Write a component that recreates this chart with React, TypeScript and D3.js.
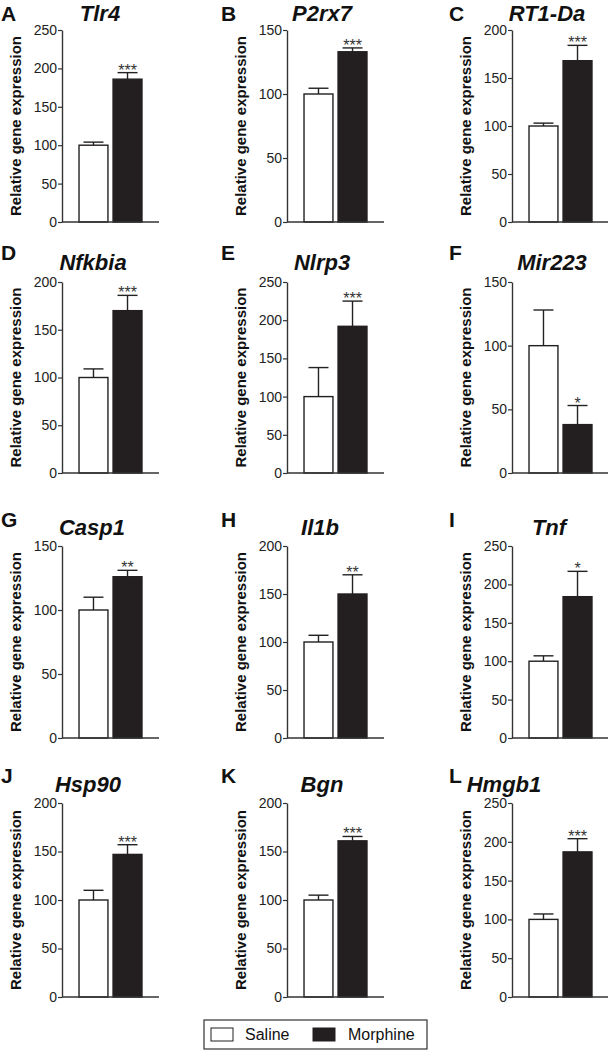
import React, { useEffect, useRef } from 'react';
import * as d3 from 'd3';

const genes = ["Tlr4", "P2rx7", "RT1-Da", "Nfkbia", "Nlrp3", "Mir223", "Casp1", "Il1b", "Tnf", "Hsp90", "Bgn", "Hmgb1"];
const panelLetters = ["A", "B", "C", "D", "E", "F", "G", "H", "I", "J", "K", "L"];
const yMax = [250, 150, 200, 200, 250, 150, 150, 200, 250, 200, 200, 250];
const groups = ["Saline", "Morphine"];
const salineMean = [100, 100, 100, 100, 100, 100, 100, 100, 100, 100, 100, 100];
const salineErr = [4, 4.5, 3, 9, 38, 28, 10, 7, 7, 10, 5, 7];
const morphineMean = [186, 133, 168, 170, 192, 38, 126, 150, 184, 147, 161, 187];
const morphineErr = [8.5, 3, 16, 16, 33, 15, 5, 20, 33, 10, 4.5, 17];
const significance = ["***", "***", "***", "***", "***", "*", "**", "**", "*", "***", "***", "***"];

const FONT = "'Liberation Sans', Arial, Helvetica, sans-serif";
const W = 608;
const H = 1050;

// layout of the 4x3 grid (y-axis x position per column, plot top/zero per row)
const colAxisX = [62, 287, 512];
const colLetterX = [1, 221, 449];
const rowTop = [30, 282, 546, 803];
const rowZero = [222, 473, 738, 997];
const rowTitleY = [21, 270, 535, 792];
const rowLetterY = [21, 260, 527, 783];
// title centre, per panel (titles are not aligned the same way in every panel)
const titleCenterX = [100, 322, 547, 93, 322, 552, 92, 320, 549, 88, 322, 504];
const plotWidth = 97;

const App: React.FC = () => {
  const svgRef = useRef<SVGSVGElement>(null);

  useEffect(() => {
    if (!svgRef.current) return;
    const svg = d3.select(svgRef.current);
    svg.selectAll("*").remove();

    const x = d3.scaleBand<string>()
      .domain(groups)
      .range([0, plotWidth])
      .paddingInner(0.15)
      .paddingOuter(0.5);

    genes.forEach((gene, i) => {
      const col = i % 3;
      const row = Math.floor(i / 3);
      const ax = colAxisX[col];

      const y = d3.scaleLinear()
        .domain([0, yMax[i]])
        .range([rowZero[row], rowTop[row]]);

      // panel letter
      svg.append("text")
        .attr("x", colLetterX[col])
        .attr("y", rowLetterY[row])
        .attr("font-family", FONT)
        .attr("font-weight", "bold")
        .attr("font-size", 21)
        .attr("fill", "#111")
        .text(panelLetters[i]);

      // gene title
      svg.append("text")
        .attr("x", titleCenterX[i])
        .attr("y", rowTitleY[row])
        .attr("text-anchor", "middle")
        .attr("font-family", FONT)
        .attr("font-weight", "bold")
        .attr("font-style", "italic")
        .attr("font-size", 22)
        .attr("fill", "#111")
        .text(gene);

      // y-axis label
      const midY = (rowTop[row] + rowZero[row]) / 2;
      svg.append("text")
        .attr("transform", `translate(${ax - 41},${midY}) rotate(-90)`)
        .attr("text-anchor", "middle")
        .attr("font-family", FONT)
        .attr("font-weight", "bold")
        .attr("font-size", 15)
        .attr("fill", "#111")
        .text("Relative gene expression");

      const g = svg.append("g").attr("transform", `translate(${ax},0)`);

      const means = [salineMean[i], morphineMean[i]];
      const errs = [salineErr[i], morphineErr[i]];

      // error bars (upper only), drawn behind bars
      groups.forEach((grp, k) => {
        const cx = (x(grp) as number) + x.bandwidth() / 2;
        const top = y(means[k] + errs[k]);
        g.append("line")
          .attr("x1", cx).attr("x2", cx)
          .attr("y1", y(means[k])).attr("y2", top)
          .attr("stroke", "#222").attr("stroke-width", 1.4);
        g.append("line")
          .attr("x1", cx - 10).attr("x2", cx + 10)
          .attr("y1", top).attr("y2", top)
          .attr("stroke", "#222").attr("stroke-width", 1.4);
      });

      // bars
      g.selectAll("rect.bar")
        .data(groups)
        .enter()
        .append("rect")
        .attr("class", "bar")
        .attr("x", (d) => x(d) as number)
        .attr("width", x.bandwidth())
        .attr("y", (_d, k) => y(means[k]))
        .attr("height", (_d, k) => y(0) - y(means[k]))
        .attr("fill", (_d, k) => (k === 0 ? "#ffffff" : "#231f20"))
        .attr("stroke", "#231f20")
        .attr("stroke-width", 1.4);

      // significance stars over morphine bar
      const mcx = (x("Morphine") as number) + x.bandwidth() / 2;
      g.append("text")
        .attr("x", mcx)
        .attr("y", y(means[1] + errs[1]) + 3)
        .attr("text-anchor", "middle")
        .attr("font-family", FONT)
        .attr("font-size", 16)
        .attr("fill", "#333")
        .text(significance[i]);

      // y axis
      const yAxis = d3.axisLeft(y)
        .tickValues(d3.range(0, yMax[i] + 1, 50))
        .tickSize(4)
        .tickSizeOuter(0)
        .tickPadding(1);
      const ya = g.append("g").call(yAxis);
      ya.select(".domain").attr("stroke", "#333").attr("stroke-width", 1.4);
      ya.selectAll(".tick line").attr("stroke", "#333").attr("stroke-width", 1.2);
      ya.selectAll(".tick text")
        .attr("font-family", FONT)
        .attr("font-size", 14)
        .attr("fill", "#222");

      // x axis baseline
      g.append("line")
        .attr("x1", 0).attr("x2", x.range()[1])
        .attr("y1", y(0)).attr("y2", y(0))
        .attr("stroke", "#333").attr("stroke-width", 1.4);
    });

    // legend
    const lg = svg.append("g");
    lg.append("rect")
      .attr("x", 204).attr("y", 1020)
      .attr("width", 223).attr("height", 29)
      .attr("fill", "none").attr("stroke", "#333").attr("stroke-width", 1.2);
    const legendX = [211, 313];
    const legendTextX = [245, 348];
    groups.forEach((grp, k) => {
      lg.append("rect")
        .attr("x", legendX[k]).attr("y", 1028)
        .attr("width", 22).attr("height", 13)
        .attr("fill", k === 0 ? "#fff" : "#231f20")
        .attr("stroke", "#231f20").attr("stroke-width", 1);
      lg.append("text")
        .attr("x", legendTextX[k]).attr("y", 1040)
        .attr("font-family", FONT)
        .attr("font-size", 16)
        .attr("fill", "#111")
        .text(grp);
    });
  }, []);

  return (
    <svg
      ref={svgRef}
      width={W}
      height={H}
      style={{ position: "absolute", left: 0, top: 0, background: "#fff" }}
    />
  );
};

export default App;
